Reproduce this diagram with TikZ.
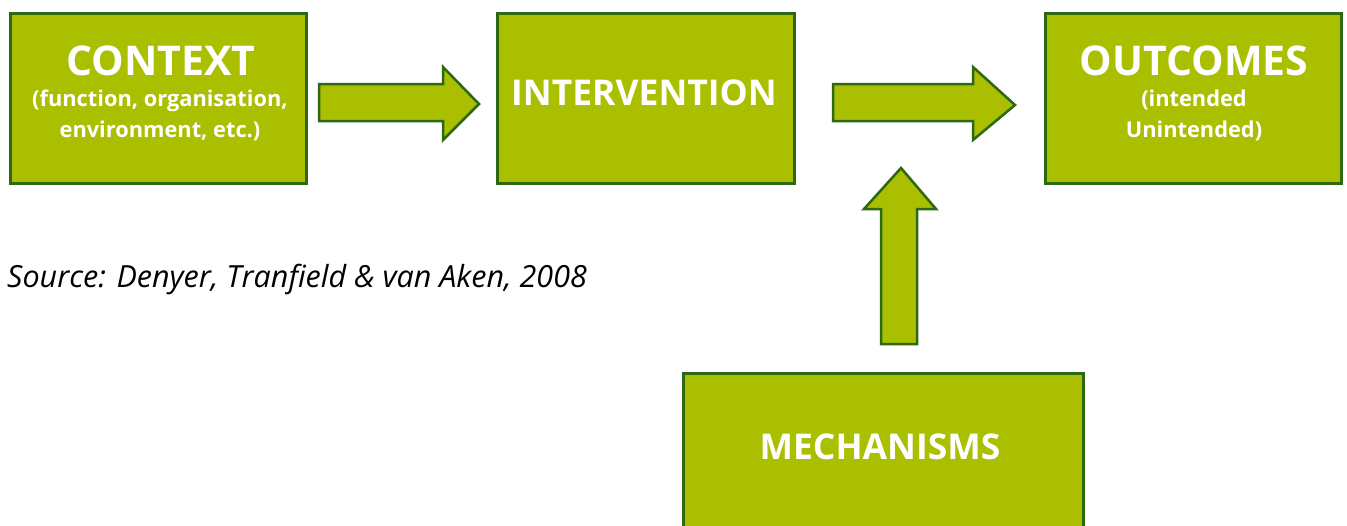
\documentclass[tikz,border=0pt]{standalone}
\usepackage{fontspec}
\setmainfont{Open Sans}
\definecolor{boxfill}{RGB}{169,191,0}
\definecolor{boxline}{RGB}{46,104,18}
\begin{document}
\begin{tikzpicture}[x=1pt,y=-1pt,
  greenbox/.style={draw=boxline,fill=boxfill,line width=3pt,inner sep=0pt},
  blockarrow/.style={draw=boxline,fill=boxfill,line width=2.5pt,line join=miter},
  title/.style={text=white,font=\bfseries\fontsize{41}{44}\selectfont,inner sep=0pt,anchor=base},
  midtitle/.style={text=white,font=\bfseries\fontsize{35.5}{38}\selectfont,inner sep=0pt,anchor=base},
  subtitle/.style={text=white,font=\bfseries\fontsize{21.8}{24}\selectfont,inner sep=0pt,anchor=base}]
\clip (0,0) rectangle (1347,525);
\fill[white] (0,0) rectangle (1347,525);

% boxes
\path[greenbox] (10.5,13.5) rectangle (306.5,183);
\node[title] (ctx) at (161,75) {CONTEXT};
\node[subtitle] (ctx1) at (160,106) {(function, organisation,};
\node[subtitle] (ctx2) at (160,137) {environment, etc.)};

\path[greenbox] (497.5,13.5) rectangle (794.5,183);
\node[midtitle] (int) at (644,105) {INTERVENTION};

\path[greenbox] (1045.5,13.5) rectangle (1341.5,183);
\node[title] (out) at (1194,75) {OUTCOMES};
\node[subtitle] (out1) at (1194,106) {(intended};
\node[subtitle] (out2) at (1194,137) {Unintended)};

\path[greenbox] (683.5,373.5) rectangle (1083.5,560);
\node[midtitle] (mech) at (880,459) {MECHANISMS};

% block arrows
\path[blockarrow] (319,84) -- (443,84) -- (443,67) -- (479,104) -- (443,140) -- (443,121) -- (319,121) -- cycle;
\path[blockarrow] (833,84) -- (973,84) -- (973,67) -- (1015,105) -- (973,140) -- (973,121) -- (833,121) -- cycle;
\path[blockarrow] (881,344) -- (881,209) -- (864,209) -- (901,168) -- (936,209) -- (917,209) -- (917,344) -- cycle;

% source line
\node[anchor=base west,inner sep=0pt,font=\itshape\fontsize{30.5}{33}\selectfont] (src) at (7,287) {Source: Denyer, Tranfield \& van Aken, 2008};
\end{tikzpicture}
\end{document}
